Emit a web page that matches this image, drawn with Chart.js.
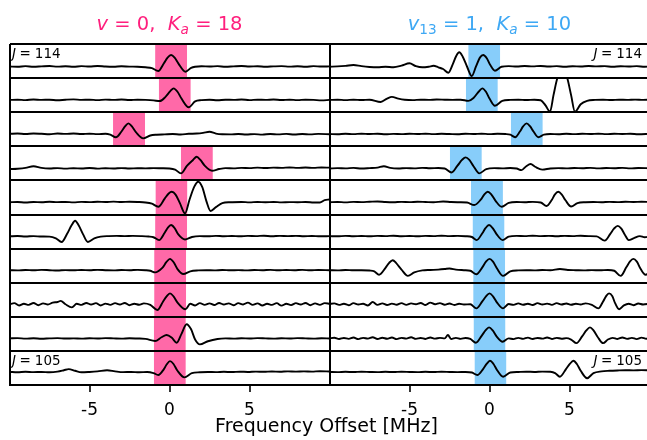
<!DOCTYPE html>
<html>
<head>
<meta charset="utf-8">
<script src="https://cdn.jsdelivr.net/npm/chart.js@4"></script>
<style>
    html, body { margin: 0; padding: 0; background: #fff; overflow: hidden; }
    #wrap { position: relative; width: 647px; height: 440px; overflow: hidden; }
    #plot { position: absolute; left: 0; top: 0; }
    .title { position: absolute; top: 13px; width: 320px; text-align: center; font-family: "DejaVu Sans"; font-size: 19.5px; line-height: 22px; white-space: nowrap; }
    .title sub { font-size: 70%; vertical-align: -0.3em; line-height: 0; }
    .pink { left: 9.5px; color: #ff1f7d; }
    .blue { left: 329.5px; color: #3ea8f4; }
    #xlabel { position: absolute; left: 0; width: 653px; top: 414px; text-align: center; font-family: "DejaVu Sans"; font-size: 19px; line-height: 22px; }
</style>
</head>
<body>
<div id="wrap">
    <canvas id="plot" width="659" height="440"></canvas>
    <div class="title pink"><i>v</i> = 0,&nbsp;&nbsp;<i>K</i><sub><i>a</i></sub> = 18</div>
    <div class="title blue"><i>v</i><sub>13</sub> = 1,&nbsp;&nbsp;<i>K</i><sub><i>a</i></sub> = 10</div>
    <div id="xlabel">Frequency Offset [MHz]</div>
</div>
<script>
// rotational quantum number J of each strip, top to bottom
const jValues = [114, 113, 112, 111, 110, 109, 108, 107, 106, 105];

// centre of the highlighted window in each strip [MHz]
const pinkCenters = [0.1, 0.33, -2.53, 1.71, 0.12, 0.1, 0.04, 0.04, 0.02, 0.02];
const blueCenters = [-0.33, -0.48, 2.33, -1.48, -0.16, -0.06, -0.02, -0.02, 0.0, 0.06];
const windowHalfWidth = 1;

const xTicks = [-5, 0, 5];

// v = 0, Ka = 18 spectra, [offset MHz, intensity]
const pinkJ114 = [[-10,0.02],[-9.5,0.0],[-9,0.05],[-8.5,0.0],[-8,0.03],[-7.5,0.06],[-7,0.01],[-6.5,0.04],[-6,0.0],[-5.5,0.05],[-5,0.02],[-4.5,0.07],[-4,0.02],[-3.5,0.0],[-3,0.04],[-2.5,0.01],[-2,0.0],[-1.5,-0.05],[-1.1,-0.12],[-0.7,-0.38],[-0.35,0.3],[-0.12,0.8],[0.1,1.03],[0.32,0.8],[0.55,0.3],[1.0,-0.44],[1.35,-0.1],[1.6,0.0],[2,0.04],[2.5,0.02],[3,0.05],[3.5,0.0],[4,0.03],[4.5,0.06],[5,0.02],[5.5,0.04],[6,0.0],[6.5,0.03],[7,0.05],[7.5,0.01],[8,0.04],[8.5,0.0],[9,0.05],[9.5,0.02],[10,0.03]];
const pinkJ113 = [[-10,0.08],[-9.5,0.1],[-9,0.06],[-8.5,0.12],[-8,0.08],[-7.5,0.1],[-7,0.05],[-6.5,0.1],[-6,0.13],[-5.5,0.08],[-5,0.1],[-4.5,0.06],[-4,0.11],[-3.5,0.08],[-3,0.12],[-2.5,0.07],[-2,0.1],[-1.5,0.08],[-1,0.04],[-0.6,-0.02],[-0.25,0.35],[0.05,0.85],[0.26,1.1],[0.5,0.8],[0.75,0.2],[1.2,-0.57],[1.6,-0.05],[2,0.06],[2.5,0.1],[3,0.05],[3.5,0.1],[4,0.08],[4.5,0.12],[5,0.06],[5.5,0.1],[6,0.08],[6.5,0.12],[7,0.07],[7.5,0.1],[8,0.06],[8.5,0.1],[9,0.08],[9.5,0.04],[10,0.08]];
const pinkJ112 = [[-10,0.1],[-9.5,0.12],[-9,0.08],[-8.5,0.13],[-8,0.1],[-7.5,0.06],[-7,0.12],[-6.5,0.09],[-6,0.13],[-5.5,0.08],[-5,0.11],[-4.5,0.07],[-4,0.1],[-3.7,0.02],[-3.35,-0.21],[-3.0,0.3],[-2.78,0.75],[-2.57,1.02],[-2.35,0.75],[-2.1,0.25],[-1.65,-0.3],[-1.2,-0.05],[-0.8,0.02],[-0.3,0.05],[0.2,0.08],[0.7,0.04],[1.2,0.1],[1.7,0.12],[2.1,0.18],[2.5,0.28],[2.9,0.12],[3.3,0.06],[3.8,0.05],[4.3,0.08],[4.8,0.04],[5.3,0.07],[5.8,0.03],[6.3,0.08],[6.8,0.05],[7.3,0.09],[7.8,0.04],[8.3,0.08],[8.8,0.05],[9.3,0.09],[10,0.06]];
const pinkJ111 = [[-10,0.0],[-9.5,0.03],[-9,0.1],[-8.5,0.25],[-8,0.1],[-7.5,0.05],[-7,0.08],[-6.5,0.04],[-6,0.07],[-5.5,0.05],[-5,0.09],[-4.5,0.04],[-4,0.07],[-3.5,0.05],[-3,0.08],[-2.5,0.05],[-2,0.07],[-1.5,0.06],[-1,0.08],[-0.5,0.07],[0,0.05],[0.35,-0.05],[0.72,-0.38],[1.1,0.3],[1.47,0.8],[1.7,1.08],[1.93,0.8],[2.2,0.3],[2.66,-0.15],[3.1,0.0],[3.5,0.08],[4,0.06],[4.5,0.1],[5,0.08],[5.5,0.12],[6,0.09],[6.5,0.12],[7,0.1],[7.5,0.14],[8,0.1],[8.5,0.13],[9,0.1],[9.5,0.14],[10,0.12]];
const pinkJ110 = [[-10,0.08],[-9.5,0.1],[-9,0.06],[-8.5,0.1],[-8,0.08],[-7.5,0.12],[-7,0.09],[-6.5,0.1],[-6,0.07],[-5.5,0.11],[-5,0.09],[-4.5,0.12],[-4,0.1],[-3.5,0.13],[-3,0.1],[-2.5,0.12],[-2,0.1],[-1.5,0.06],[-1.1,-0.05],[-0.7,-0.32],[-0.3,0.4],[-0.05,0.85],[0.14,1.0],[0.38,0.75],[0.65,0.0],[0.97,-0.9],[1.25,0.3],[1.55,1.45],[1.8,1.88],[2.05,1.4],[2.3,0.2],[2.57,-0.69],[2.9,-0.35],[3.3,0.0],[3.8,0.08],[4.5,0.1],[5,0.07],[5.5,0.1],[6,0.08],[6.5,0.1],[7,0.07],[7.5,0.09],[8,0.08],[8.5,0.1],[9,0.06],[9.4,0.05],[9.7,0.27],[10,0.32]];
const pinkJ109 = [[-10,0.08],[-9.5,0.11],[-9,0.07],[-8.5,0.1],[-8,0.06],[-7.5,0.05],[-7.1,-0.1],[-6.74,-0.42],[-6.4,0.3],[-6.12,1.05],[-5.9,1.45],[-5.68,1.05],[-5.4,0.25],[-5.1,-0.42],[-4.7,-0.1],[-4.3,0.05],[-3.8,0.1],[-3.3,0.12],[-2.8,0.1],[-2.3,0.12],[-1.8,0.1],[-1.3,0.06],[-1,0.0],[-0.65,-0.25],[-0.3,0.4],[-0.1,0.85],[0.1,1.07],[0.32,0.8],[0.55,0.25],[0.97,-0.2],[1.4,0.02],[1.9,0.1],[2.4,0.08],[2.9,0.12],[3.4,0.09],[3.9,0.11],[4.4,0.08],[4.9,0.12],[5.4,0.1],[5.9,0.13],[6.4,0.09],[6.9,0.12],[7.4,0.1],[7.9,0.12],[8.4,0.09],[8.9,0.11],[9.4,0.08],[10,0.1]];
const pinkJ108 = [[-10,0.1],[-9.5,0.08],[-9,0.12],[-8.5,0.09],[-8,0.13],[-7.5,0.1],[-7,0.07],[-6.5,0.11],[-6,0.09],[-5.5,0.12],[-5,0.1],[-4.5,0.13],[-4,0.1],[-3.5,0.08],[-3,0.12],[-2.5,0.1],[-2,0.13],[-1.5,0.1],[-1.2,0.05],[-0.9,-0.09],[-0.45,0.3],[-0.2,0.8],[0.03,1.1],[0.26,0.8],[0.5,0.2],[0.86,-0.24],[1.3,0.0],[1.8,0.08],[2.3,0.1],[2.8,0.08],[3.3,0.12],[3.8,0.09],[4.3,0.11],[4.8,0.08],[5.3,0.12],[5.8,0.1],[6.3,0.13],[6.8,0.09],[7.3,0.12],[7.8,0.1],[8.3,0.13],[8.8,0.09],[9.3,0.12],[10,0.1]];
const pinkJ107 = [[-10,0.1],[-9.7,0.2],[-9.4,0.0],[-9.1,0.15],[-8.8,0.05],[-8.5,0.22],[-8.2,0.02],[-7.9,0.18],[-7.6,0.08],[-7.3,0.25],[-7.0,0.3],[-6.8,0.4],[-6.5,0.1],[-6.1,-0.17],[-5.8,0.15],[-5.5,0.05],[-5.2,0.22],[-4.9,0.08],[-4.6,0.2],[-4.3,0.0],[-4.0,0.16],[-3.7,0.05],[-3.4,0.2],[-3.1,0.08],[-2.8,0.22],[-2.5,0.02],[-2.2,0.15],[-1.9,0.06],[-1.6,0.18],[-1.2,0.05],[-0.76,-0.4],[-0.4,0.35],[-0.18,0.8],[0.03,1.06],[0.25,0.8],[0.5,0.25],[1.0,-0.34],[1.3,0.15],[1.6,0.0],[1.9,0.2],[2.2,0.05],[2.5,0.18],[2.8,0.04],[3.1,0.22],[3.4,0.08],[3.7,0.18],[4.0,0.02],[4.3,0.2],[4.6,0.08],[4.9,0.25],[5.2,0.05],[5.5,0.18],[5.8,0.0],[6.1,0.15],[6.4,0.05],[6.7,0.2],[7.0,-0.02],[7.3,0.15],[7.6,0.03],[7.9,0.2],[8.2,0.08],[8.5,0.22],[8.8,0.02],[9.1,0.18],[9.4,0.05],[9.7,0.2],[10,0.15]];
const pinkJ106 = [[-10,0.1],[-9.5,0.12],[-9,0.08],[-8.5,0.11],[-8,0.07],[-7.5,0.1],[-7,0.12],[-6.5,0.09],[-6,0.1],[-5.5,0.08],[-5,0.11],[-4.5,0.09],[-4,0.12],[-3.5,0.1],[-3,0.08],[-2.5,0.11],[-2,0.09],[-1.5,0.06],[-0.9,-0.13],[-0.5,0.2],[-0.18,0.4],[0.15,0.15],[0.45,-0.28],[0.75,0.5],[1.07,1.35],[1.35,0.9],[1.6,0.0],[1.9,-0.43],[2.4,-0.15],[3.0,0.05],[3.5,0.1],[4,0.08],[4.5,0.11],[5,0.09],[5.5,0.12],[6,0.1],[6.5,0.08],[7,0.11],[7.5,0.09],[8,0.12],[8.5,0.1],[9,0.08],[9.5,0.11],[10,0.09]];
const pinkJ105 = [[-10,0.15],[-9.5,0.12],[-9,0.16],[-8.5,0.13],[-8,0.15],[-7.5,0.12],[-7,0.18],[-6.6,0.3],[-6.3,0.4],[-5.9,0.25],[-5.5,0.12],[-5,0.15],[-4.5,0.2],[-3.9,0.3],[-3.4,0.2],[-2.9,0.13],[-2.4,0.15],[-1.9,0.12],[-1.4,0.14],[-1,0.05],[-0.7,-0.12],[-0.35,0.4],[-0.18,0.8],[0.03,1.1],[0.25,0.85],[0.5,0.25],[0.93,-0.33],[1.4,0.05],[1.9,0.12],[2.4,0.15],[2.9,0.13],[3.4,0.16],[3.9,0.14],[4.4,0.17],[4.9,0.15],[5.4,0.18],[5.9,0.16],[6.4,0.19],[6.9,0.17],[7.4,0.2],[7.9,0.18],[8.4,0.2],[8.9,0.18],[9.4,0.21],[10,0.19]];

// v13 = 1, Ka = 10 spectra
const blueJ114 = [[-10,0.0],[-9.5,0.03],[-9,0.08],[-8.5,0.15],[-8,0.05],[-7.5,-0.02],[-7,-0.05],[-6.5,0.0],[-6,-0.04],[-5.5,0.1],[-5,0.3],[-4.6,0.05],[-4.2,-0.05],[-3.8,0.0],[-3.5,0.08],[-3.2,-0.05],[-2.9,-0.2],[-2.57,-0.53],[-2.3,0.2],[-2.08,0.95],[-1.89,1.27],[-1.68,0.9],[-1.4,0.0],[-1.11,-0.82],[-0.85,0.0],[-0.6,0.8],[-0.39,1.03],[-0.17,0.75],[0.05,0.15],[0.34,-0.35],[0.75,0.0],[1.2,0.05],[1.7,0.02],[2.2,0.06],[2.7,0.03],[3.2,0.07],[3.7,0.02],[4.2,0.05],[4.7,0.0],[5.2,0.04],[5.7,0.02],[6.2,0.06],[6.7,0.03],[7.2,0.05],[7.7,0.0],[8.2,0.04],[8.7,0.02],[9.2,0.05],[9.7,0.0],[10,0.02]];
const blueJ113 = [[-10,0.08],[-9.5,0.1],[-9,0.06],[-8.5,0.1],[-8,0.07],[-7.5,0.1],[-6.8,-0.1],[-6.4,0.2],[-6.1,0.35],[-5.7,0.2],[-5.3,0.1],[-4.8,0.06],[-4.3,0.1],[-3.8,0.08],[-3.3,0.12],[-2.8,0.1],[-2.3,0.08],[-1.8,0.1],[-1.32,0.0],[-1.0,0.25],[-0.68,0.8],[-0.45,1.1],[-0.22,0.8],[0.0,0.2],[0.34,-0.43],[0.8,0.0],[1.3,0.08],[1.8,0.1],[2.3,0.07],[2.8,0.1],[3.2,0.05],[3.5,-0.4],[3.78,-0.96],[4.0,0.5],[4.24,2.0],[4.55,3.0],[4.86,2.0],[5.1,0.5],[5.34,-0.96],[5.7,-0.3],[6.1,0.0],[6.6,0.08],[7.1,0.1],[7.6,0.07],[8.1,0.1],[8.6,0.08],[9.1,0.11],[9.6,0.08],[10,0.1]];
const blueJ112 = [[-10,0.08],[-9.5,0.06],[-9,0.1],[-8.5,0.07],[-8,0.11],[-7.5,0.08],[-7,0.1],[-6.5,0.06],[-6,0.09],[-5.5,0.07],[-5,0.1],[-4.5,0.08],[-4,0.11],[-3.5,0.07],[-3,0.1],[-2.5,0.08],[-2,0.06],[-1.5,0.1],[-1,0.08],[-0.5,0.11],[0,0.07],[0.5,0.1],[1.0,0.08],[1.3,0.02],[1.6,-0.2],[1.9,0.3],[2.1,0.75],[2.32,1.02],[2.54,0.75],[2.75,0.3],[3.05,-0.2],[3.4,0.02],[3.8,0.08],[4.3,0.06],[4.8,0.1],[5.3,0.07],[5.8,0.1],[6.3,0.08],[6.8,0.11],[7.3,0.07],[7.8,0.1],[8.3,0.08],[8.8,0.1],[9.3,0.06],[10,0.09]];
const blueJ111 = [[-10,0.05],[-9.5,0.08],[-9,0.06],[-8.5,0.1],[-8,0.05],[-7.5,0.08],[-7,0.12],[-6.6,0.25],[-6.2,0.1],[-5.7,0.05],[-5.2,0.08],[-4.7,0.06],[-4.2,0.1],[-3.7,0.07],[-3.2,0.09],[-2.8,0.05],[-2.37,-0.3],[-2.0,0.3],[-1.72,0.8],[-1.49,1.03],[-1.26,0.8],[-1.0,0.25],[-0.64,-0.38],[-0.2,0.0],[0.3,0.08],[0.8,0.06],[1.3,0.09],[1.7,0.05],[2.0,-0.1],[2.3,0.25],[2.57,0.44],[2.85,0.2],[3.3,-0.05],[3.8,0.05],[4.3,0.08],[4.8,0.06],[5.3,0.09],[5.8,0.07],[6.3,0.1],[6.8,0.06],[7.3,0.09],[7.8,0.07],[8.3,0.1],[8.8,0.06],[9.3,0.09],[10,0.07]];
const blueJ110 = [[-10,0.08],[-9.5,0.1],[-9,0.07],[-8.5,0.11],[-8,0.09],[-7.5,0.12],[-7,0.15],[-6.5,0.1],[-6,0.08],[-5.5,0.11],[-5,0.09],[-4.5,0.12],[-4,0.1],[-3.5,0.08],[-2.9,0.15],[-2.4,0.1],[-1.9,0.08],[-1.4,0.05],[-0.95,-0.17],[-0.55,0.3],[-0.33,0.75],[-0.11,1.0],[0.12,0.75],[0.38,0.2],[0.76,-0.32],[1.2,0.02],[1.7,0.1],[2.2,0.08],[2.7,0.11],[3.2,0.06],[3.57,-0.25],[3.9,0.3],[4.08,0.75],[4.3,1.0],[4.52,0.75],[4.75,0.25],[5.1,-0.3],[5.5,0.0],[6,0.08],[6.5,0.1],[7,0.08],[7.5,0.11],[8,0.09],[8.5,0.12],[9,0.1],[9.5,0.12],[10,0.1]];
const blueJ109 = [[-10,0.1],[-9.5,0.08],[-9,0.12],[-8.5,0.09],[-8,0.11],[-7.5,0.08],[-7,0.12],[-6.5,0.1],[-6,0.13],[-5.5,0.09],[-5,0.11],[-4.5,0.08],[-4,0.12],[-3.5,0.1],[-3,0.13],[-2.5,0.1],[-2,0.12],[-1.5,0.09],[-1.1,0.02],[-0.8,-0.25],[-0.45,0.35],[-0.25,0.8],[-0.03,1.07],[0.2,0.8],[0.45,0.25],[0.82,-0.25],[1.2,0.05],[1.7,0.12],[2.2,0.1],[2.7,0.13],[3.2,0.1],[3.7,0.12],[4.2,0.09],[4.7,0.12],[5.2,0.1],[5.7,0.13],[6.2,0.1],[6.7,0.08],[7.2,-0.3],[7.55,0.3],[7.78,0.75],[8.01,1.0],[8.24,0.75],[8.45,0.25],[8.7,-0.25],[9.0,-0.1],[9.4,0.1],[9.7,0.0],[10,0.05]];
const blueJ108 = [[-10,0.1],[-9.5,0.08],[-9,0.12],[-8.5,0.09],[-8,0.1],[-7.5,0.07],[-7.2,0.0],[-6.9,-0.3],[-6.5,0.3],[-6.27,0.75],[-6.05,0.98],[-5.83,0.72],[-5.5,0.15],[-5.1,-0.4],[-4.7,-0.1],[-4.2,0.08],[-3.7,0.12],[-3.2,0.15],[-2.8,0.2],[-2.5,0.25],[-2.1,0.15],[-1.6,0.1],[-1.2,0.05],[-0.82,-0.25],[-0.45,0.35],[-0.22,0.85],[0.0,1.1],[0.22,0.85],[0.47,0.25],[0.85,-0.4],[1.3,0.0],[1.8,0.08],[2.3,0.1],[2.8,0.08],[3.3,0.12],[3.8,0.1],[4.4,0.2],[4.9,0.12],[5.4,0.1],[5.9,0.08],[6.4,0.11],[6.9,0.09],[7.4,0.12],[7.8,0.05],[8.2,-0.4],[8.55,0.35],[8.77,0.85],[8.99,1.1],[9.21,0.85],[9.45,0.2],[9.75,-0.3],[10,-0.1]];
const blueJ107 = [[-10,0.12],[-9.7,0.18],[-9.4,0.05],[-9.1,0.15],[-8.8,0.02],[-8.5,0.2],[-8.2,0.08],[-7.9,0.15],[-7.6,0.0],[-7.3,0.3],[-7.0,0.05],[-6.7,0.18],[-6.4,0.04],[-6.1,0.16],[-5.8,0.06],[-5.5,0.2],[-5.2,0.05],[-4.9,0.18],[-4.6,0.1],[-4.3,0.22],[-4.0,0.04],[-3.7,0.25],[-3.4,0.1],[-3.1,0.2],[-2.8,0.06],[-2.5,0.17],[-2.2,0.04],[-1.9,0.15],[-1.6,0.08],[-1.2,0.1],[-0.82,-0.26],[-0.45,0.35],[-0.22,0.8],[0.0,1.06],[0.22,0.8],[0.47,0.25],[0.85,-0.26],[1.2,0.12],[1.5,0.05],[1.8,0.18],[2.1,0.06],[2.4,0.15],[2.7,0.04],[3.0,0.2],[3.3,0.08],[3.6,0.16],[3.9,0.05],[4.2,0.2],[4.5,0.08],[4.8,0.17],[5.1,0.06],[5.4,0.15],[5.7,0.08],[6.0,0.18],[6.4,0.05],[6.8,-0.26],[7.1,0.35],[7.28,0.8],[7.47,1.06],[7.68,0.8],[7.85,0.2],[8.1,-0.34],[8.4,0.0],[8.7,0.15],[9.0,0.02],[9.3,0.17],[9.6,0.08],[10,0.15]];
const blueJ106 = [[-10,0.1],[-9.7,0.16],[-9.4,0.05],[-9.1,0.14],[-8.8,0.06],[-8.5,0.18],[-8.2,0.04],[-7.9,0.15],[-7.6,0.08],[-7.3,0.2],[-7.0,0.05],[-6.7,0.16],[-6.4,0.07],[-6.1,0.18],[-5.8,0.04],[-5.5,0.15],[-5.2,0.08],[-4.9,0.2],[-4.6,0.06],[-4.3,0.14],[-4.0,0.05],[-3.7,0.18],[-3.4,0.08],[-3.1,0.15],[-2.8,0.1],[-2.6,0.4],[-2.4,0.05],[-2.1,0.15],[-1.8,0.06],[-1.5,0.14],[-1.2,0.05],[-0.85,-0.28],[-0.48,0.35],[-0.25,0.8],[-0.03,1.07],[0.2,0.8],[0.45,0.25],[0.82,-0.2],[1.2,0.1],[1.5,0.04],[1.8,0.15],[2.1,0.06],[2.4,0.17],[2.7,0.05],[3.0,0.14],[3.3,0.08],[3.6,0.18],[3.9,0.05],[4.2,0.15],[4.5,0.07],[4.8,0.12],[5.1,0.0],[5.44,-0.32],[5.8,0.3],[6.05,0.8],[6.28,1.07],[6.5,0.8],[6.75,0.25],[7.1,-0.32],[7.4,0.0],[7.7,0.15],[8.0,0.05],[8.3,0.18],[8.6,0.06],[8.9,0.15],[9.2,0.04],[9.5,0.17],[9.8,0.07],[10,0.12]];
const blueJ105 = [[-10,0.15],[-9.5,0.13],[-9,0.16],[-8.5,0.14],[-8,0.17],[-7.5,0.15],[-7,0.13],[-6.5,0.16],[-6,0.14],[-5.5,0.17],[-5,0.15],[-4.5,0.13],[-4,0.16],[-3.5,0.14],[-3,0.17],[-2.5,0.15],[-2,0.13],[-1.5,0.15],[-1.1,0.1],[-0.76,-0.12],[-0.4,0.4],[-0.18,0.85],[0.03,1.13],[0.25,0.85],[0.5,0.25],[0.85,-0.27],[1.3,0.1],[1.8,0.15],[2.3,0.17],[2.8,0.15],[3.3,0.18],[3.8,0.16],[4.1,0.05],[4.4,-0.27],[4.78,0.4],[5.02,0.85],[5.24,1.13],[5.46,0.85],[5.7,0.25],[6.1,-0.4],[6.5,0.05],[7,0.2],[7.5,0.25],[8,0.28],[8.5,0.3],[9,0.29],[9.5,0.31],[10,0.3]];

const pinkTraces = [pinkJ114, pinkJ113, pinkJ112, pinkJ111, pinkJ110, pinkJ109, pinkJ108, pinkJ107, pinkJ106, pinkJ105];
const blueTraces = [blueJ114, blueJ113, blueJ112, blueJ111, blueJ110, blueJ109, blueJ108, blueJ107, blueJ106, blueJ105];

const PINK = '#ff69a8';
const BLUE = '#87cdfa';

Chart.defaults.font.family = '"DejaVu Sans", sans-serif';
Chart.defaults.color = '#000';

// each strip is its own y axis; clip the trace to its strip
const rowClip = {
    id: 'rowClip',
    beforeDatasetDraw(chart, args) {
        const ds = chart.data.datasets[args.index];
        if (!ds.isTrace) return;
        const xs = chart.scales[ds.xAxisID];
        const ys = chart.scales[ds.yAxisID];
        chart.ctx.save();
        chart.ctx.beginPath();
        chart.ctx.rect(xs.left, ys.top, xs.right - xs.left, ys.bottom - ys.top);
        chart.ctx.clip();
    },
    afterDatasetDraw(chart, args) {
        if (chart.data.datasets[args.index].isTrace) chart.ctx.restore();
    }
};

// "J = 114" / "J = 105" tags on first and last strip
function drawJ(ctx, x, y, num) {
    ctx.font = 'italic 13.5px "DejaVu Sans"';
    ctx.fillText('J', x, y);
    x += ctx.measureText('J').width + 3.5;
    ctx.font = '13.5px "DejaVu Sans"';
    ctx.fillText('=', x, y);
    x += ctx.measureText('=').width + 4;
    ctx.fillText(num, x, y);
}
function widthJ(ctx, num) {
    ctx.font = 'italic 13.5px "DejaVu Sans"';
    let w = ctx.measureText('J').width + 3.5;
    ctx.font = '13.5px "DejaVu Sans"';
    return w + ctx.measureText('=').width + 4 + ctx.measureText(num).width;
}

const rowLabels = {
    id: 'rowLabels',
    afterDraw(chart) {
        const ctx = chart.ctx;
        const xl = chart.scales.xl;
        const xr = chart.scales.xr;
        [0, jValues.length - 1].forEach(i => {
            const row = chart.scales['r' + i];
            const y = row.top + 13.7;
            const num = String(jValues[i]);
            ctx.save();
            ctx.fillStyle = '#000';
            ctx.textBaseline = 'alphabetic';
            ctx.textAlign = 'left';
            drawJ(ctx, xl.left + 2.5, y, num);
            drawJ(ctx, xr.right - 7.5 - widthJ(ctx, num), y, num);
            ctx.restore();
        });
    }
};

const datasets = [];
const panels = [
    { xAxisID: 'xl', traces: pinkTraces, centers: pinkCenters, color: PINK },
    { xAxisID: 'xr', traces: blueTraces, centers: blueCenters, color: BLUE }
];
panels.forEach(p => {
    jValues.forEach((j, i) => {
        const c = p.centers[i];
        datasets.push({
            label: 'window J=' + j,
            data: [[c - windowHalfWidth, 2], [c + windowHalfWidth, 2]],
            xAxisID: p.xAxisID,
            yAxisID: 'r' + i,
            borderWidth: 0,
            pointRadius: 0,
            backgroundColor: p.color,
            fill: { value: -1 },
            order: 2
        });
        datasets.push({
            label: 'J=' + j,
            data: p.traces[i],
            xAxisID: p.xAxisID,
            yAxisID: 'r' + i,
            borderColor: '#000',
            borderWidth: 1.9,
            pointRadius: 0,
            fill: false,
            cubicInterpolationMode: 'monotone',
            isTrace: true,
            order: 1
        });
    });
});

function xAxis() {
    return {
        type: 'linear',
        position: 'bottom',
        stack: 'freq',
        stackWeight: 1,
        min: -10,
        max: 10,
        afterBuildTicks: axis => {
            axis.ticks = [-10].concat(xTicks, [10]).map(v => ({ value: v }));
        },
        grid: {
            z: 1,
            lineWidth: 2,
            color: ctx => (ctx.tick && Math.abs(ctx.tick.value) === 10) ? '#000' : 'rgba(0,0,0,0)',
            tickColor: ctx => (ctx.tick && Math.abs(ctx.tick.value) === 10) ? 'rgba(0,0,0,0)' : '#000',
            tickLength: 7,
            tickWidth: 1.6
        },
        border: { display: true, color: '#000', width: 2, z: 1 },
        ticks: {
            padding: 8.5,
            maxRotation: 0,
            autoSkip: false,
            font: { size: 17 },
            color: '#000',
            callback: v => Math.abs(v) === 10 ? '' : String(v)
        }
    };
}

const scales = { xl: xAxis(), xr: xAxis() };
jValues.forEach((j, i) => {
    scales['r' + i] = {
        type: 'linear',
        position: 'left',
        stack: 'rows',
        stackWeight: 1,
        weight: jValues.length - i,
        min: -1,
        max: 2,
        afterBuildTicks: axis => { axis.ticks = [{ value: -1 }, { value: 2 }]; },
        ticks: { display: false },
        grid: { z: 1, color: '#000', lineWidth: 2, drawTicks: false },
        border: { display: false }
    };
});

new Chart(document.getElementById('plot'), {
    type: 'line',
    data: { datasets },
    options: {
        responsive: false,
        animation: false,
        events: [],
        layout: { padding: { left: 9.5, right: 9.5, top: 44, bottom: 10.6 } },
        plugins: {
            legend: { display: false },
            tooltip: { enabled: false }
        },
        scales
    },
    plugins: [rowClip, rowLabels]
});
</script>
</body>
</html>
